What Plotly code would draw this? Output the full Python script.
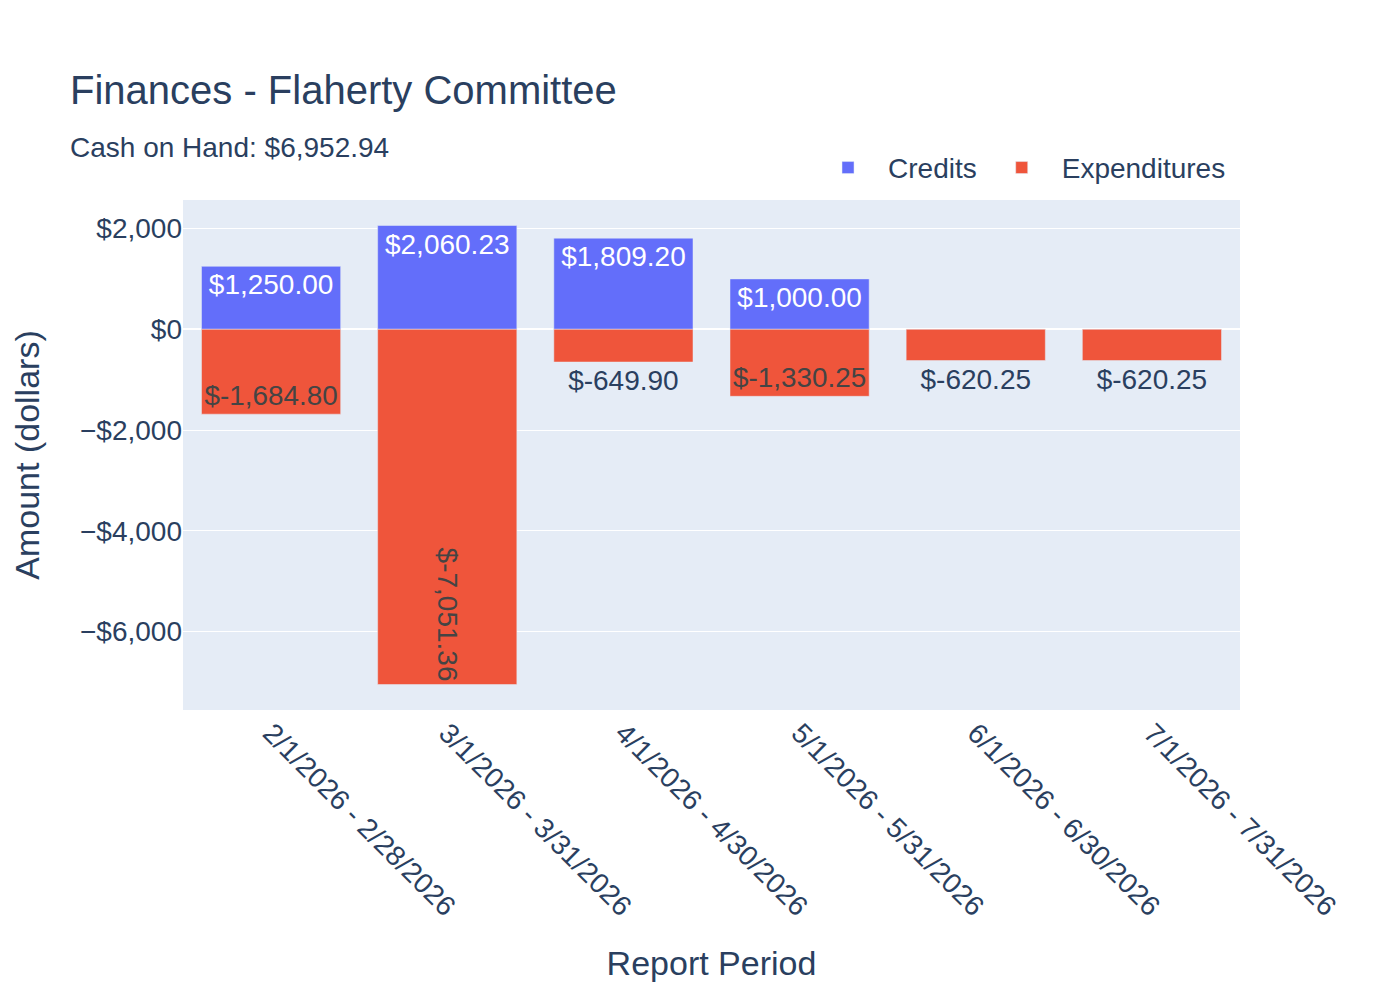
# Finances bar chart : credits vs expenditures per report period
import plotly.graph_objs as go

periods = ["2/1/2026 - 2/28/2026", "3/1/2026 - 3/31/2026", "4/1/2026 - 4/30/2026",
           "5/1/2026 - 5/31/2026", "6/1/2026 - 6/30/2026", "7/1/2026 - 7/31/2026"]
credits = [1250.00, 2060.23, 1809.20, 1000.00, None, None]
expenditures = [-1684.80, -7051.36, -649.90, -1330.25, -620.25, -620.25]
cash_on_hand = 6952.94

data = [go.Bar(x=periods, y=credits, name="Credits",
               texttemplate="$%{y:,.2f}"),
        go.Bar(x=periods, y=expenditures, name="Expenditures",
               texttemplate="$%{y:,.2f}")]

# page has an 8px body margin, so margins are shifted to compensate
layout = go.Layout(
    title=dict(text="Finances - Flaherty Committee", x=62 / 1400, xref="container",
               font=dict(size=40),
               subtitle=dict(text="Cash on Hand: ${:,.2f}".format(cash_on_hand),
                             font=dict(size=28))),
    barmode="relative",
    bargap=0.21,
    width=1400, height=1000,
    font=dict(family="Arial", size=28),
    margin=dict(l=175, r=168, t=192, b=298, autoexpand=False),
    legend=dict(orientation="h", x=0.9915, xanchor="right", y=1.014, yanchor="bottom",
                itemwidth=70),
    xaxis=dict(title=dict(text="Report Period", standoff=30), tickangle=45,
               automargin=False),
    yaxis=dict(title=dict(text="Amount (dollars)", standoff=35), tickformat="$,",
               automargin=False),
)

fig = go.Figure(data=data, layout=layout)
fig.write_html("out.html")
